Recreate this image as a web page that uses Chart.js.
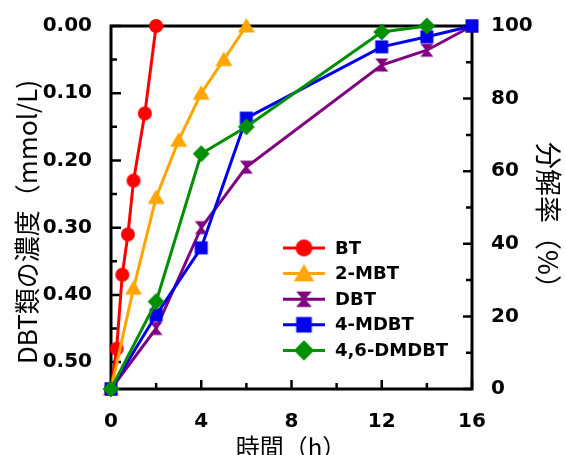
<!DOCTYPE html>
<html>
<head>
<meta charset="utf-8">
<script src="https://cdn.jsdelivr.net/npm/chart.js@4/dist/chart.umd.min.js"></script>
<style>
  html, body { margin: 0; padding: 0; background: #fff; }
</style>
</head>
<body>
<canvas id="chart" width="566" height="455"></canvas>
<script>
// series: hours vs DBT concentration (mmol/L)
const seriesNames = ['BT', '2-MBT', 'DBT', '4-MDBT', '4,6-DMDBT'];
const btHours = [0, 0.25, 0.5, 0.75, 1, 1.5, 2];
const btConc = [0.54, 0.48, 0.37, 0.31, 0.23, 0.13, 0.00];
const mbtHours = [0, 1, 2, 3, 4, 5, 6];
const mbtConc = [0.54, 0.39, 0.255, 0.17, 0.10, 0.05, 0.00];
const dbtHours = [0, 2, 4, 6, 12, 14, 16];
const dbtConc = [0.54, 0.45, 0.30, 0.21, 0.058, 0.036, 0.00];
const mdbtHours = [0, 2, 4, 6, 12, 14, 16];
const mdbtConc = [0.54, 0.43, 0.33, 0.137, 0.031, 0.016, 0.00];
const dmdbtHours = [0, 2, 4, 6, 12, 14];
const dmdbtConc = [0.54, 0.41, 0.19, 0.15, 0.009, 0.00];

// axes
const xTicks = [0, 4, 8, 12, 16];
const xMinor = [2, 6, 10, 14];
const concTicks = [0, 0.1, 0.2, 0.3, 0.4, 0.5];
const concMinor = [0.05, 0.15, 0.25, 0.35, 0.45];
const rateTicks = [0, 20, 40, 60, 80, 100];
const rateMinor = [10, 30, 50, 70, 90];
const xTitle = '時間（h）';
const concTitle = 'DBT類の濃度（mmol/L)';
const rateTitle = '分解率（%）';

const colors = ['#ff0000', '#ffa500', '#800080', '#0000ee', '#008f00'];
const shapes = ['circle', 'triangle', 'hourglass', 'square', 'diamond'];

function makeMarker(shape, color, k) {
    const c = document.createElement('canvas');
    const s = Math.ceil(24 * k);
    c.width = s; c.height = s;
    const g = c.getContext('2d');
    const m = s / 2;
    g.fillStyle = color;
    g.translate(m, m);
    g.scale(k, k);
    g.beginPath();
    if (shape === 'circle') {
        g.arc(0, 0, 7, 0, Math.PI * 2);
    } else if (shape === 'triangle') {
        g.moveTo(0, -8); g.lineTo(8.5, 6.5); g.lineTo(-8.5, 6.5);
    } else if (shape === 'hourglass') {
        g.moveTo(-6.5, -6.5); g.lineTo(6.5, -6.5); g.lineTo(1.2, 0);
        g.lineTo(6.5, 6.5); g.lineTo(-6.5, 6.5); g.lineTo(-1.2, 0);
    } else if (shape === 'square') {
        g.rect(-6.5, -6.5, 13, 13);
    } else {
        g.moveTo(0, -8.5); g.lineTo(8.5, 0); g.lineTo(0, 8.5); g.lineTo(-8.5, 0);
    }
    g.closePath();
    g.fill();
    return c;
}

const markers = shapes.map((s, i) => makeMarker(s, colors[i], 1));
const legendMarkers = shapes.map((s, i) => makeMarker(s, colors[i], 1.2));

const hours = [btHours, mbtHours, dbtHours, mdbtHours, dmdbtHours];
const concs = [btConc, mbtConc, dbtConc, mdbtConc, dmdbtConc];

const datasets = seriesNames.map((name, i) => ({
    label: name,
    data: hours[i].map((h, j) => ({ x: h, y: concs[i][j] })),
    borderColor: colors[i],
    backgroundColor: colors[i],
    borderWidth: 3,
    pointStyle: markers[i],
    pointRadius: 7,
    tension: 0,
    clip: false,
    order: seriesNames.length - i
}));

// frame + inward ticks, drawn under the data
const framePlugin = {
    id: 'frame',
    beforeDatasetsDraw(chart) {
        const { ctx, chartArea: a, scales } = chart;
        ctx.save();
        ctx.strokeStyle = '#000';
        ctx.lineWidth = 3;
        ctx.strokeRect(a.left, a.top, a.right - a.left, a.bottom - a.top);
        ctx.lineWidth = 2.5;
        ctx.beginPath();
        const tick = (vals, len, fn) => vals.forEach(v => fn(v, len));
        const xt = (v, len) => { const p = scales.x.getPixelForValue(v); ctx.moveTo(p, a.bottom); ctx.lineTo(p, a.bottom - len); };
        const lt = (v, len) => { const p = scales.y.getPixelForValue(v); ctx.moveTo(a.left, p); ctx.lineTo(a.left + len, p); };
        const rt = (v, len) => { const p = scales.y1.getPixelForValue(v); ctx.moveTo(a.right, p); ctx.lineTo(a.right - len, p); };
        tick(xTicks, 9, xt); tick(xMinor, 6, xt);
        tick(concTicks, 10, lt); tick(concMinor, 6, lt);
        tick(rateTicks, 9, rt); tick(rateMinor, 6, rt);
        ctx.stroke();
        ctx.restore();
    }
};

// legend with line + marker, inside the plot
const legendPlugin = {
    id: 'innerLegend',
    afterDatasetsDraw(chart) {
        const { ctx } = chart;
        ctx.save();
        ctx.font = "bold 18px 'DejaVu Sans'";
        ctx.textBaseline = 'middle';
        ctx.textAlign = 'left';
        seriesNames.forEach((name, i) => {
            const y = 248 + i * 25.6;
            ctx.strokeStyle = colors[i];
            ctx.lineWidth = 3;
            ctx.beginPath();
            ctx.moveTo(283, y); ctx.lineTo(325, y);
            ctx.stroke();
            const mk = legendMarkers[i];
            ctx.drawImage(mk, 304 - mk.width / 2, y - mk.height / 2);
            ctx.fillStyle = '#000';
            ctx.fillText(name, 335, y + 1);
        });
        ctx.restore();
    }
};

const titlePlugin = {
    id: 'axisTitles',
    afterDraw(chart) {
        const { ctx } = chart;
        ctx.save();
        ctx.fillStyle = '#000';
        ctx.textAlign = 'center';
        ctx.textBaseline = 'middle';
        ctx.font = "26px 'Noto Sans CJK JP'";
        ctx.save(); ctx.translate(27, 222); ctx.rotate(-Math.PI / 2); ctx.fillText(concTitle, 0, 0); ctx.restore();
        ctx.font = "27px 'Noto Sans CJK JP'";
        ctx.save(); ctx.translate(548, 222); ctx.rotate(Math.PI / 2); ctx.fillText(rateTitle, 0, 0); ctx.restore();
        ctx.font = "24px 'Noto Sans CJK JP'";
        ctx.fillText(xTitle, 291, 447);
        ctx.restore();
    }
};

const tickFont = { family: 'DejaVu Sans', weight: 'bold', size: 20 };

new Chart(document.getElementById('chart'), {
    type: 'line',
    data: { datasets },
    options: {
        responsive: false,
        animation: false,
        devicePixelRatio: 1,
        layout: { padding: { top: 26, left: 0, right: 0, bottom: 0 } },
        plugins: { legend: { display: false }, tooltip: { enabled: false } },
        scales: {
            x: {
                type: 'linear', min: 0, max: 16,
                grid: { display: false }, border: { display: false },
                ticks: { font: tickFont, color: '#000', padding: 13, maxRotation: 0 },
                afterBuildTicks: s => { s.ticks = xTicks.map(v => ({ value: v })); },
                afterFit: s => { s.height = 66; }
            },
            y: {
                position: 'left', min: 0, max: 0.54, reverse: true,
                grid: { display: false }, border: { display: false },
                ticks: { font: tickFont, color: '#000', padding: 11, callback: v => v.toFixed(2) },
                afterBuildTicks: s => { s.ticks = concTicks.map(v => ({ value: v })); },
                afterFit: s => { s.width = 111; }
            },
            y1: {
                position: 'right', min: 0, max: 100,
                grid: { display: false }, border: { display: false },
                ticks: { font: tickFont, color: '#000', padding: 11 },
                afterBuildTicks: s => { s.ticks = rateTicks.map(v => ({ value: v })); },
                afterFit: s => { s.width = 94; }
            }
        }
    },
    plugins: [framePlugin, legendPlugin, titlePlugin]
});
</script>
</body>
</html>
